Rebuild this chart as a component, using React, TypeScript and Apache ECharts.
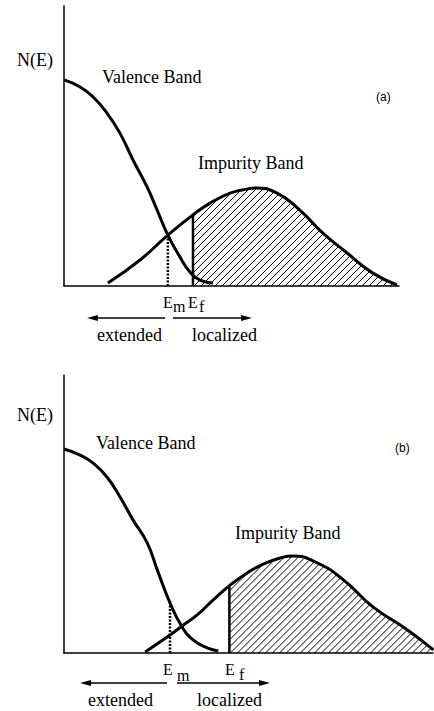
import React, { useEffect, useRef } from "react";
import * as echarts from "echarts";

// Panel (a)
const valenceA: number[][] = [[0, 7.36], [0.48, 7.11], [0.87, 6.75], [1.28, 6.18], [1.67, 5.46], [2.06, 4.5], [2.48, 3.54], [2.78, 2.71], [3.1, 1.82], [3.46, 1.04], [3.76, 0.5], [4.06, 0.21], [4.45, 0.11]];
const impurityA: number[][] = [[1.31, 0.11], [2.27, 0.93], [3.1, 1.82], [3.85, 2.54], [4.36, 2.96], [4.96, 3.32], [5.46, 3.46], [5.7, 3.5], [6.36, 3.32], [7.04, 2.71], [7.73, 1.89], [8.45, 1.18], [9.22, 0.46], [9.94, 0.04]];
const emA = 3.1, emTopA = 1.82;
const efA = 3.85, efTopA = 2.54;

// Panel (b)
const valenceB: number[][] = [[0, 7.34], [0.48, 7.12], [0.87, 6.83], [1.28, 6.33], [1.67, 5.61], [2.06, 4.78], [2.48, 3.96], [2.78, 2.99], [3.16, 1.8], [3.52, 0.94], [3.85, 0.47], [4.27, 0.18], [4.6, 0.07]];
const impurityB: number[][] = [[2.42, 0.04], [3.16, 0.65], [3.52, 0.97], [3.97, 1.37], [4.45, 1.91], [4.96, 2.45], [5.46, 2.88], [5.94, 3.2], [6.45, 3.42], [6.81, 3.49], [7.55, 3.24], [8.33, 2.63], [9.22, 1.65], [10.24, 0.83], [11.01, 0.11]];
const emB = 3.16, emTopB = 1.8;
const efB = 4.93, efTopB = 2.45;

const SERIF = '"Liberation Serif", "Times New Roman", serif';
const SANS = '"Liberation Sans", Arial, sans-serif';

function hatchRender(curve: number[][], ef: number) {
  return (params: any, api: any) => {
    const pts = curve.map((p) => api.coord(p));
    const base = api.coord([0, 0])[1];
    const xs = api.coord([ef, 0])[0];
    const xe = pts[pts.length - 1][0];
    const yAt = (x: number) => {
      for (let i = 0; i < pts.length - 1; i++) {
        const a = pts[i], b = pts[i + 1];
        if (x >= a[0] && x <= b[0]) {
          const t = (x - a[0]) / (b[0] - a[0]);
          return a[1] + t * (b[1] - a[1]);
        }
      }
      return base;
    };
    const step = 7;
    const children: any[] = [];
    for (let x0 = xs - 300; x0 < xe; x0 += step) {
      const xStart = Math.max(x0, xs);
      const yStart = base - (xStart - x0);
      if (yStart < yAt(xStart) + 1) continue;
      let x = xStart;
      while (x < xe && base - (x - x0) >= yAt(x)) x += 0.25;
      children.push({
        type: "line",
        shape: { x1: xStart, y1: yStart, x2: x, y2: base - (x - x0) },
        style: { stroke: "#000", lineWidth: 1 },
      });
    }
    return { type: "group", children };
  };
}

function txt(text: string, x: number, y: number, size: number, font = SERIF) {
  return {
    type: "text",
    style: {
      text,
      x,
      y,
      font: `${size}px ${font}`,
      fill: "#000",
      verticalAlign: "middle",
      textVerticalAlign: "middle",
    },
  };
}

function arrow(x1: number, x2: number, y: number) {
  const dir = x2 > x1 ? 1 : -1;
  return [
    { type: "line", shape: { x1, y1: y, x2: x2 - dir * 6, y2: y }, style: { stroke: "#000", lineWidth: 1.5 } },
    {
      type: "polygon",
      shape: { points: [[x2, y], [x2 - dir * 11, y - 3], [x2 - dir * 11, y + 3]] },
      style: { fill: "#000" },
    },
  ];
}

function axisCfg(gridIndex: number, max: number) {
  return {
    type: "value",
    gridIndex,
    min: 0,
    max,
    axisLine: { show: true, lineStyle: { color: "#000", width: 1.5 } },
    axisTick: { show: false },
    axisLabel: { show: false },
    splitLine: { show: false },
  };
}

function curveSeries(data: number[][], idx: number) {
  return {
    type: "line",
    xAxisIndex: idx,
    yAxisIndex: idx,
    data,
    smooth: 0.5,
    symbol: "none",
    lineStyle: { color: "#000", width: 3 },
    z: 3,
  };
}

function vline(x: number, top: number, idx: number, dotted: boolean) {
  return {
    type: "line",
    xAxisIndex: idx,
    yAxisIndex: idx,
    data: [[x, 0], [x, top]],
    symbol: "none",
    lineStyle: { color: "#000", width: dotted ? 2.5 : 2.5, type: dotted ? [2, 1.5] : "solid" },
    z: 4,
  };
}

export default function App() {
  const ref = useRef<HTMLDivElement>(null);
  useEffect(() => {
    if (!ref.current) return;
    const chart = echarts.init(ref.current, null, { renderer: "svg" });
    chart.setOption({
      animation: false,
      backgroundColor: "#fff",
      grid: [
        { left: 64, top: 6, width: 335, height: 280 },
        { left: 64, top: 375, width: 369, height: 278 },
      ],
      xAxis: [axisCfg(0, 10), axisCfg(1, 11)],
      yAxis: [axisCfg(0, 10), axisCfg(1, 10)],
      series: [
        curveSeries(valenceA, 0),
        curveSeries(impurityA, 0),
        vline(emA, emTopA, 0, true),
        vline(efA, efTopA, 0, false),
        {
          type: "custom",
          xAxisIndex: 0,
          yAxisIndex: 0,
          data: [[0, 0]],
          renderItem: hatchRender(impurityA, efA),
          clip: false,
          silent: true,
          z: 2,
        },
        curveSeries(valenceB, 1),
        curveSeries(impurityB, 1),
        vline(emB, emTopB, 1, true),
        vline(efB, efTopB, 1, false),
        {
          type: "custom",
          xAxisIndex: 1,
          yAxisIndex: 1,
          data: [[0, 0]],
          renderItem: hatchRender(impurityB, efB),
          clip: false,
          silent: true,
          z: 2,
        },
      ],
      graphic: [
        // panel (a)
        txt("N(E)", 17, 60, 18),
        txt("Valence Band", 102, 77, 18),
        txt("Impurity Band", 198, 163, 18),
        txt("(a)", 376, 97, 12, SANS),
        txt("E", 163, 302, 16),
        txt("m", 173, 306, 16),
        txt("E", 188, 302, 16),
        txt("f", 199, 306, 16),
        ...arrow(165, 87, 318),
        ...arrow(173, 252, 318),
        txt("extended", 97, 335, 18),
        txt("localized", 192, 335, 18),
        // panel (b)
        txt("N(E)", 17, 415, 18),
        txt("Valence Band", 96, 443, 18),
        txt("Impurity Band", 235, 533, 18),
        txt("(b)", 395, 448, 12, SANS),
        txt("E", 163, 669, 16),
        txt("m", 177, 675, 16),
        txt("E", 225, 669, 16),
        txt("f", 239, 674, 16),
        ...arrow(167, 80, 683),
        ...arrow(177, 270, 683),
        txt("extended", 88, 700, 18),
        txt("localized", 197, 700, 18),
      ],
    });
    return () => chart.dispose();
  }, []);
  return (
    <div
      ref={ref}
      style={{ position: "fixed", left: 0, top: 0, width: 434, height: 711, background: "#fff" }}
    />
  );
}
